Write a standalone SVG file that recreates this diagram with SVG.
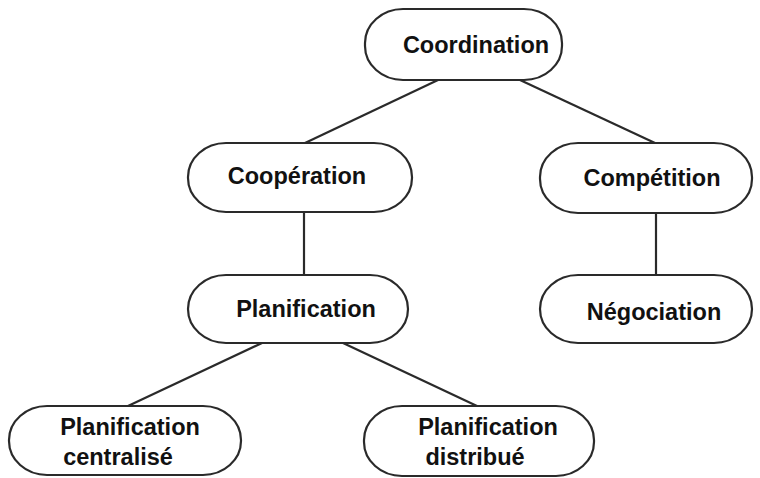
<svg xmlns="http://www.w3.org/2000/svg" width="760" height="478" viewBox="0 0 760 478">
<style>
.n{fill:#fff;stroke:#2a2a2a;stroke-width:2.2}
.t{font-family:"Liberation Sans",Arial,sans-serif;font-weight:bold;font-size:23.5px;fill:#111}
.c line{stroke:#2a2a2a;stroke-width:2.2}
</style>
<rect width="760" height="478" fill="#fff"/>
<g class="c" id="connectors">
<line x1="438" y1="80" x2="305" y2="143"/>
<line x1="520" y1="80" x2="655" y2="143"/>
<line x1="304" y1="212" x2="304" y2="275"/>
<line x1="656" y1="213" x2="656" y2="275"/>
<line x1="262" y1="343" x2="128" y2="406"/>
<line x1="343" y1="343" x2="477" y2="406"/>
</g>
<g id="coordination"><rect class="n" x="365" y="9" width="197" height="71" rx="38" ry="34"/><text class="t" x="476" y="53" text-anchor="middle">Coordination</text></g>
<g id="cooperation"><rect class="n" x="188" y="143" width="224" height="69" rx="38" ry="34"/><text class="t" x="297" y="184" text-anchor="middle">Coopération</text></g>
<g id="competition"><rect class="n" x="540" y="143" width="212" height="70" rx="38" ry="34"/><text class="t" x="652" y="186" text-anchor="middle">Compétition</text></g>
<g id="planification"><rect class="n" x="188" y="275" width="220" height="68" rx="38" ry="34"/><text class="t" x="306" y="317" text-anchor="middle">Planification</text></g>
<g id="negociation"><rect class="n" x="540" y="275" width="212" height="68" rx="38" ry="34"/><text class="t" x="654" y="320" text-anchor="middle">Négociation</text></g>
<g id="planif-centralise"><rect class="n" x="9" y="406" width="232" height="69" rx="38" ry="34"/><text class="t" x="130" y="435" text-anchor="middle">Planification</text><text class="t" x="118" y="465" text-anchor="middle">centralisé</text></g>
<g id="planif-distribue"><rect class="n" x="364" y="406" width="230" height="70" rx="38" ry="34"/><text class="t" x="488" y="435" text-anchor="middle">Planification</text><text class="t" x="475" y="465" text-anchor="middle">distribué</text></g>
</svg>
